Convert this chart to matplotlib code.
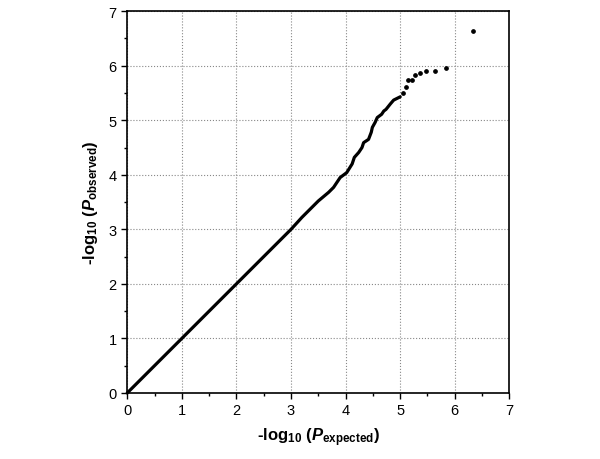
import matplotlib
matplotlib.use('Agg')
import matplotlib.pyplot as plt
from matplotlib.ticker import MultipleLocator

plt.rcParams['font.family'] = ['Liberation Sans', 'DejaVu Sans']
plt.rcParams['mathtext.fontset'] = 'custom'
plt.rcParams['mathtext.rm'] = 'Liberation Sans:bold'
plt.rcParams['mathtext.bf'] = 'Liberation Sans:bold'
plt.rcParams['mathtext.bfit'] = 'Liberation Sans:bold:italic'
plt.rcParams['mathtext.it'] = 'Liberation Sans:bold:italic'

# dense part of the QQ curve (expected, observed)
dense_exp = [0.0, 1.0, 2.0, 3.0, 3.2, 3.38, 3.5, 3.69, 3.78, 3.90, 4.02, 4.12,
             4.16, 4.24, 4.30, 4.33, 4.42, 4.47, 4.49, 4.54, 4.58, 4.66, 4.70,
             4.74, 4.82, 4.88, 4.94, 5.00]
dense_obs = [0.0, 1.0, 2.0, 3.0, 3.22, 3.40, 3.52, 3.68, 3.77, 3.95, 4.04, 4.20,
             4.32, 4.41, 4.50, 4.59, 4.65, 4.78, 4.87, 4.96, 5.05, 5.11, 5.17,
             5.20, 5.30, 5.37, 5.40, 5.43]

# sparse tail points
tail_exp = [5.05, 5.10, 5.15, 5.21, 5.28, 5.37, 5.48, 5.63, 5.84, 6.33]
tail_obs = [5.50, 5.61, 5.73, 5.74, 5.83, 5.86, 5.90, 5.91, 5.96, 6.63]

fig = plt.figure(figsize=(6, 4.6), dpi=100)
ax = fig.add_axes([0.212, 0.1435, 0.637, 0.830])

ax.plot(dense_exp, dense_obs, color='black', lw=2.3, solid_capstyle='round',
        zorder=3, clip_on=False)
ax.plot(tail_exp, tail_obs, 'o', color='black', ms=2.4, zorder=3)

ax.set_xlim(0, 7)
ax.set_ylim(0, 7)
ax.xaxis.set_major_locator(MultipleLocator(1))
ax.yaxis.set_major_locator(MultipleLocator(1))
ax.xaxis.set_minor_locator(MultipleLocator(0.5))
ax.yaxis.set_minor_locator(MultipleLocator(0.5))
ax.tick_params(which='major', direction='out', length=4, width=1, labelsize=10.5)
ax.tick_params(which='minor', direction='out', length=2.5, width=1)
ax.grid(True, which='major', linestyle=':', color='#888888', lw=0.8)
for sp in ax.spines.values():
    sp.set_linewidth(1.2)

ax.set_xlabel(r'-log$_\mathbf{10}$ ($\mathbfit{P}_\mathbf{expected}$)',
              fontsize=12, fontweight='bold', labelpad=6)
ax.set_ylabel(r'-log$_\mathbf{10}$ ($\mathbfit{P}_\mathbf{observed}$)',
              fontsize=12, fontweight='bold', labelpad=6)

fig.savefig('out.png', dpi=100)
